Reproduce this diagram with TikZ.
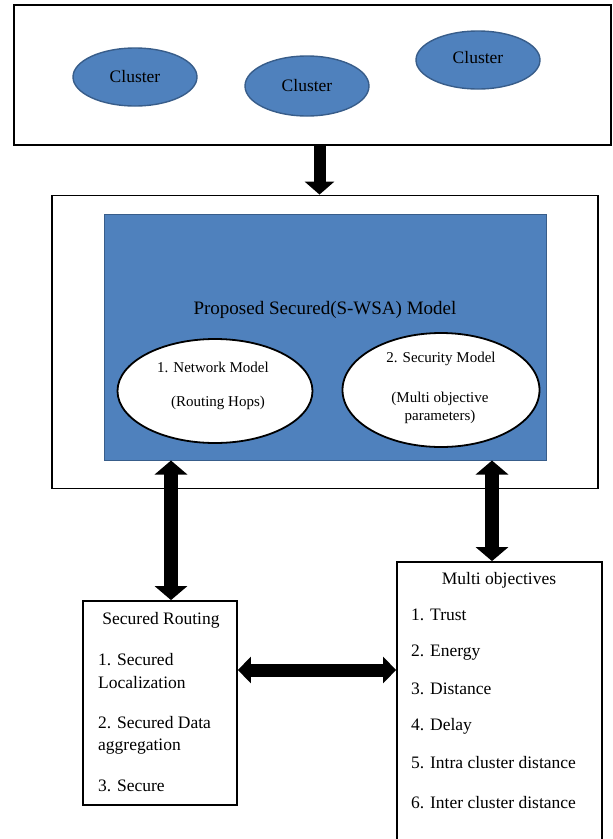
\documentclass[tikz,border=0pt]{standalone}
\usepackage{fontspec}
\setmainfont{Liberation Serif}
\usetikzlibrary{arrows.meta,shapes.geometric,calc}
\definecolor{ofblue}{HTML}{4F81BD}
\definecolor{ofborder}{HTML}{385D8A}
\begin{document}
\begin{tikzpicture}[x=1pt,y=-1pt,
  frame/.style={draw=black,line width=1.8pt,rectangle,inner sep=0pt},
  clus/.style={ellipse,draw=ofborder,line width=1.4pt,fill=ofblue,inner sep=0pt,
    minimum width=124pt,minimum height=58pt},
  wellipse/.style={ellipse,draw=black,line width=1.8pt,fill=white,inner sep=0pt},
  txt/.style={inner sep=0pt,font=\fontsize{17.5}{20}\selectfont},
  etxt/.style={inner sep=0pt,font=\fontsize{15}{18}\selectfont},
  ltxt/.style={txt,anchor=west},
  blockone/.style={line width=12pt,-{Triangle[width=29pt,length=13pt]}},
  blocktwo/.style={line width=14pt,{Triangle[width=32pt,length=14pt]}-{Triangle[width=32pt,length=14pt]}},
  blockthree/.style={line width=13pt,{Triangle[width=26pt,length=13pt]}-{Triangle[width=26pt,length=13pt]}}
]
\useasboundingbox (0,0) rectangle (613,839);
\clip (0,0) rectangle (613,839);

% top cluster box
\node[frame,minimum width=597pt,minimum height=140pt] (top) at (312.5,75) {};
\node[clus] (c1) at (135,77) {};
\node[txt] (c1t) at (135,77) {Cluster};
\node[clus,minimum height=60pt] (c2) at (307,86) {};
\node[txt] (c2t) at (307,86) {Cluster};
\node[clus] (c3) at (478,60) {};
\node[txt] (c3t) at (478,58) {Cluster};

% model box
\node[frame,minimum width=546pt,minimum height=293pt] (box2) at (325,342) {};
\node[rectangle,draw=ofborder,line width=1pt,fill=ofblue,minimum width=442pt,minimum height=246pt] (blue) at (325,337) {};
\node[txt,font=\fontsize{19}{22}\selectfont] (title) at (325,310) {Proposed Secured(S-WSA) Model};
\node[wellipse,minimum width=195pt,minimum height=104pt] (netm) at (215,391) {};
\node[etxt] (netm1) at (213,367) {1. Network Model};
\node[etxt] (netm2) at (218,403) {(Routing Hops)};
\node[wellipse,minimum width=197pt,minimum height=114pt] (secm) at (441,390) {};
\node[etxt] (secm1) at (441,359) {2. Security Model};
\node[etxt] (secm2) at (440,399) {(Multi objective};
\node[etxt] (secm3) at (440,417) {parameters)};

% secured routing box
\node[frame,minimum width=154pt,minimum height=204pt] (sr) at (160,703) {};
\node[txt] (srt) at (161,620) {Secured Routing};
\node[ltxt] (sr1) at (98,660) {1. Secured};
\node[ltxt] (sr2) at (98,683) {Localization};
\node[ltxt] (sr3) at (98,723) {2. Secured Data};
\node[ltxt] (sr4) at (98,747) {aggregation};
\node[ltxt] (sr5) at (98,786) {3. Secure};

% multi objectives box
\node[frame,minimum width=205pt,minimum height=290pt] (mo) at (499.5,707) {};
\node[txt] (mot) at (499,580) {Multi objectives};
\node[ltxt] (mo1) at (411,615) {1. Trust};
\node[ltxt] (mo2) at (411,653) {2. Energy};
\node[ltxt] (mo3) at (411,689) {3. Distance};
\node[ltxt] (mo4) at (411,726) {4. Delay};
\node[ltxt] (mo5) at (411,763) {5. Intra cluster distance};
\node[ltxt] (mo6) at (411,803) {6. Inter cluster distance};

% arrows
\coordinate (ax1) at (319.5,0);
\coordinate (ax2) at (171,0);
\coordinate (ax3) at (492,0);
\coordinate (ay) at (0,670);
\draw[blockone] (top.south -| ax1) -- (box2.north -| ax1);
\draw[blocktwo] (blue.south -| ax2) -- (sr.north -| ax2);
\draw[blocktwo] (blue.south -| ax3) -- (mo.north -| ax3);
\draw[blockthree] (sr.east |- ay) -- (mo.west |- ay);
\end{tikzpicture}
\end{document}
